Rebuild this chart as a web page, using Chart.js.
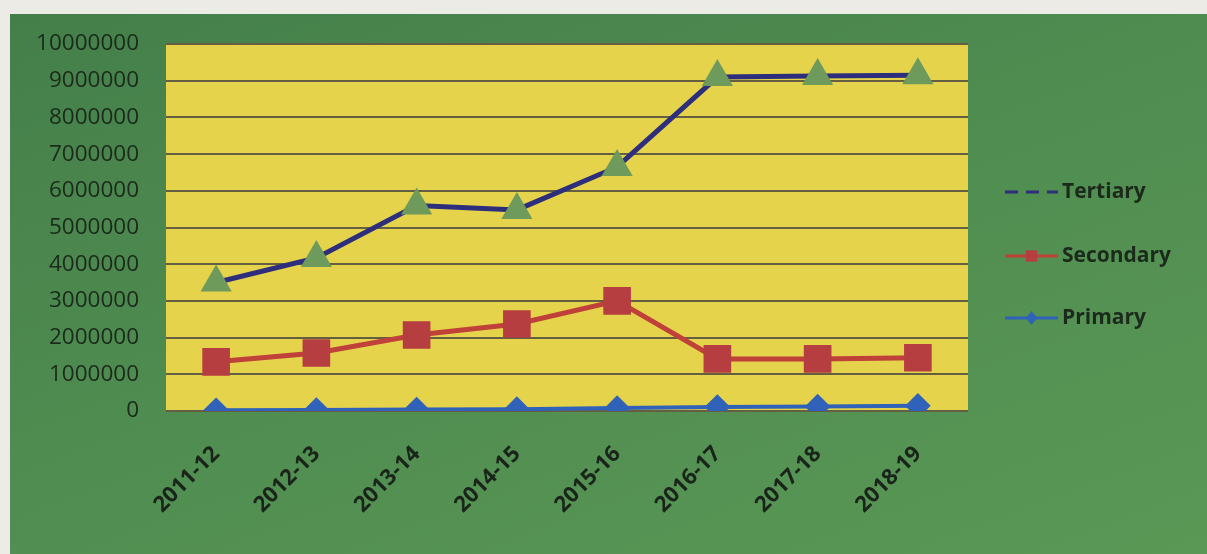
<!DOCTYPE html>
<html lang="en">
<head>
    <meta charset="UTF-8">
    <title>Sector-wise GSVA</title>
    <script src="https://cdn.jsdelivr.net/npm/chart.js"></script>
    <style>
        body {
            margin: 0;
            padding: 0;
            background-color: #ecebe6;
            width: 1207px;
            height: 554px;
            overflow: hidden;
        }
        .box {
            position: absolute;
            left: 10px;
            top: 14px;
            width: 1197px;
            height: 540px;
            background: linear-gradient(160deg, #447f4a 0%, #4f8c50 45%, #5a9856 100%);
        }
    </style>
</head>
<body>
    <div class="box">
        <canvas id="sectorChart" width="1197" height="540"></canvas>
    </div>
    <script>
        const years = ['2011-12', '2012-13', '2013-14', '2014-15', '2015-16', '2016-17', '2017-18', '2018-19'];
        const primary = [20000, 25000, 40000, 50000, 80000, 110000, 120000, 140000];
        const secondary = [1340000, 1580000, 2070000, 2370000, 3000000, 1420000, 1420000, 1450000];
        const tertiary = [3500000, 4170000, 5600000, 5480000, 6650000, 9100000, 9130000, 9150000];
        const yTicks = [0, 1000000, 2000000, 3000000, 4000000, 5000000, 6000000, 7000000, 8000000, 9000000, 10000000];

        const fontFamily = '"Open Sans", "DejaVu Sans", sans-serif';

        // yellow plot area
        const plotBg = {
            id: 'plotBg',
            beforeDraw(chart) {
                const { ctx, chartArea: a } = chart;
                ctx.save();
                ctx.fillStyle = '#e6d34c';
                ctx.fillRect(a.left, a.top, a.right - a.left, a.bottom - a.top);
                ctx.restore();
            }
        };

        // legend on the right: line + marker + bold text, top to bottom Tertiary, Secondary, Primary
        const sideLegend = {
            id: 'sideLegend',
            afterDraw(chart) {
                const ctx = chart.ctx;
                const sets = chart.data.datasets.slice().reverse();
                const x0 = 995, x1 = 1048;
                const cx = (x0 + x1) / 2;
                const rows = [178, 242, 304];
                ctx.save();
                sets.forEach((ds, i) => {
                    const y = rows[i];
                    ctx.strokeStyle = ds.borderColor;
                    ctx.lineWidth = 3;
                    if (ds.label === 'Tertiary') ctx.setLineDash([13, 8]);
                    ctx.beginPath();
                    ctx.moveTo(x0, y);
                    ctx.lineTo(x1, y);
                    ctx.stroke();
                    ctx.setLineDash([]);
                    if (ds.label !== 'Tertiary') {
                        const r = ds.label === 'Secondary' ? 8 : 7;
                        ctx.fillStyle = ds.pointBackgroundColor;
                        ctx.beginPath();
                        if (ds.pointStyle === 'rect') {
                            const s = r * Math.SQRT1_2;
                            ctx.rect(cx - s, y - s, 2 * s, 2 * s);
                        } else {
                            ctx.moveTo(cx, y - r);
                            ctx.lineTo(cx + r * 0.8, y);
                            ctx.lineTo(cx, y + r);
                            ctx.lineTo(cx - r * 0.8, y);
                            ctx.closePath();
                        }
                        ctx.fill();
                    }
                    ctx.fillStyle = '#1b2a1b';
                    ctx.font = 'bold 21px ' + fontFamily;
                    ctx.textBaseline = 'middle';
                    ctx.fillText(ds.label, x1 + 4, y);
                });
                ctx.restore();
            }
        };

        const ctx = document.getElementById('sectorChart').getContext('2d');
        const chart = new Chart(ctx, {
            type: 'line',
            data: {
                labels: years,
                datasets: [
                    {
                        label: 'Primary',
                        data: primary,
                        borderColor: '#2f62b8',
                        borderWidth: 4,
                        pointStyle: 'rectRot',
                        pointRadius: 10,
                        pointBackgroundColor: '#2f62b8',
                        pointBorderColor: '#2f62b8',
                        tension: 0
                    },
                    {
                        label: 'Secondary',
                        data: secondary,
                        borderColor: '#c0403a',
                        borderWidth: 5,
                        pointStyle: 'rect',
                        pointRadius: 16,
                        pointBackgroundColor: '#b63d40',
                        pointBorderColor: '#b63d40',
                        tension: 0
                    },
                    {
                        label: 'Tertiary',
                        data: tertiary,
                        borderColor: '#2d2f7c',
                        borderWidth: 5,
                        pointStyle: 'triangle',
                        pointRadius: 13,
                        pointBackgroundColor: '#6e9a5c',
                        pointBorderColor: '#6e9a5c',
                        tension: 0
                    }
                ]
            },
            options: {
                responsive: false,
                animation: false,
                layout: {
                    padding: { left: 0, right: 239, top: 30, bottom: 0 }
                },
                plugins: {
                    legend: { display: false },
                    tooltip: { enabled: false }
                },
                scales: {
                    x: {
                        offset: true,
                        grid: { display: false, drawTicks: false },
                        border: { display: false },
                        afterFit(scale) { scale.height = 143; },
                        ticks: {
                            minRotation: 45,
                            maxRotation: 45,
                            padding: 30,
                            color: '#1a241a',
                            font: { family: fontFamily, size: 22, weight: 'bold' }
                        }
                    },
                    y: {
                        min: 0,
                        max: 10000000,
                        afterFit(scale) { scale.width = 156; },
                        afterBuildTicks(scale) {
                            scale.ticks = yTicks.map(v => ({ value: v }));
                        },
                        grid: {
                            color: '#655f42',
                            lineWidth: 2,
                            drawTicks: true,
                            tickLength: 24,
                            tickColor: 'rgba(0,0,0,0)'
                        },
                        border: { display: false },
                        ticks: {
                            padding: 3,
                            color: '#1b2a1b',
                            font: { family: fontFamily, size: 22.5 },
                            callback: v => String(v)
                        }
                    }
                }
            },
            plugins: [plotBg, sideLegend]
        });
    </script>
</body>
</html>
